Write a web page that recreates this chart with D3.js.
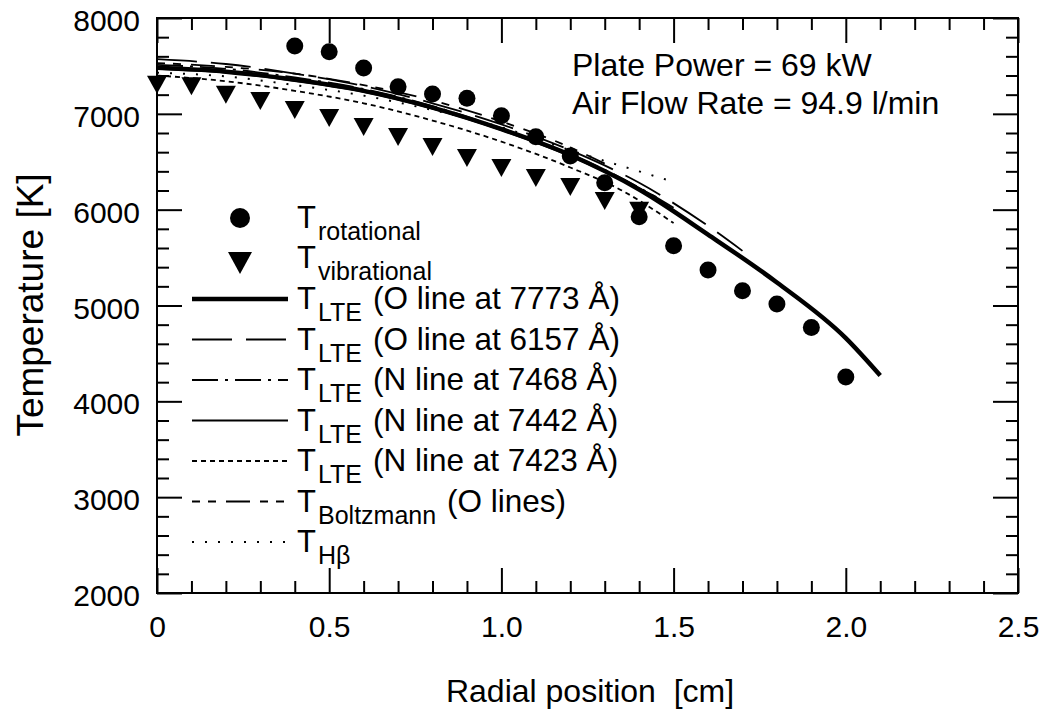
<!DOCTYPE html>
<html lang="en">
<head>
    <meta charset="UTF-8">
    <title>Temperature vs radial position</title>
    <script src="https://d3js.org/d3.v7.min.js"></script>
    <style>
        body {
            margin: 0;
            background: white;
        }
        svg {
            font-family: "Liberation Sans", Arial, Helvetica, sans-serif;
        }
        .axis path { display: none; }
        .axis line { stroke: black; stroke-width: 2px; }
        .axis text { font-size: 30px; fill: black; }
    </style>
</head>
<body>
<script>
    // Axis ticks
    const xMajor = [0, 0.5, 1.0, 1.5, 2.0, 2.5];
    const xLabels = ["0", "0.5", "1.0", "1.5", "2.0", "2.5"];
    const yMajor = [2000, 3000, 4000, 5000, 6000, 7000, 8000];

    // Measured points
    const rotX = [0.4, 0.5, 0.6, 0.7, 0.8, 0.9, 1.0, 1.1, 1.2, 1.3, 1.4, 1.5, 1.6, 1.7, 1.8, 1.9, 2.0];
    const rotT = [7708, 7648, 7478, 7283, 7207, 7162, 6980, 6761, 6560, 6281, 5926, 5623, 5370, 5154, 5015, 4771, 4253];
    const vibX = [0, 0.1, 0.2, 0.3, 0.4, 0.5, 0.6, 0.7, 0.8, 0.9, 1.0, 1.1, 1.2, 1.3, 1.4];
    const vibT = [7335, 7318, 7231, 7165, 7071, 6987, 6894, 6789, 6685, 6570, 6466, 6361, 6267, 6121, 6020];

    // Fitted LTE / other curves (x in cm, T in K)
    const o7773X = [0, 0.2, 0.4, 0.6, 0.8, 1.0, 1.2, 1.4, 1.6, 1.8, 2.0, 2.1];
    const o7773T = [7480, 7440, 7355, 7240, 7065, 6840, 6570, 6210, 5740, 5240, 4660, 4270];
    const o6157X = [0, 0.2, 0.4, 0.6, 0.8, 1.0, 1.2, 1.4, 1.6, 1.7];
    const o6157T = [7570, 7520, 7420, 7290, 7110, 6890, 6620, 6280, 5830, 5570];
    const n7468X = [0, 0.2, 0.4, 0.6, 0.8, 1.0, 1.2, 1.4, 1.5];
    const n7468T = [7510, 7470, 7380, 7260, 7080, 6850, 6580, 6230, 6020];
    const n7442X = [0, 0.2, 0.4, 0.6, 0.8, 1.0, 1.2, 1.45];
    const n7442T = [7470, 7430, 7345, 7230, 7055, 6830, 6560, 6130];
    const n7423X = [0, 0.2, 0.4, 0.6, 0.8, 1.0, 1.2, 1.35, 1.5];
    const n7423T = [7400, 7340, 7240, 7110, 6930, 6710, 6440, 6200, 5860];
    const boltzX = [0, 0.2, 0.4, 0.6, 0.8, 1.0, 1.2, 1.3];
    const boltzT = [7530, 7490, 7420, 7300, 7140, 6920, 6650, 6480];
    const hbX = [0, 0.2, 0.4, 0.6, 0.8, 1.0, 1.2, 1.4, 1.5];
    const hbT = [7430, 7390, 7300, 7190, 7040, 6860, 6620, 6400, 6290];

    const width = 1046, height = 717;
    const margin = {left: 157, right: 28, top: 18, bottom: 124};

    const svg = d3.select("body").append("svg")
        .attr("width", width)
        .attr("height", height);

    const x = d3.scaleLinear().domain([0, 2.5]).range([margin.left, width - margin.right]);
    const y = d3.scaleLinear().domain([2000, 8000]).range([height - margin.bottom, margin.top]);

    const xMinor = d3.range(0, 2.51, 0.1).filter(v => Math.abs(v * 2 - Math.round(v * 2)) > 1e-6);
    const yMinor = d3.range(2000, 8001, 200).filter(v => v % 1000 !== 0);

    // axes: ticks point inward
    const yBottom = y(2000), yTop = y(8000), xLeft = x(0), xRight = x(2.5);

    svg.append("g").attr("class", "axis").attr("transform", `translate(0,${yBottom})`)
        .call(d3.axisBottom(x).tickValues(xMajor).tickSize(-25).tickPadding(23)
            .tickFormat((d, i) => xLabels[i]));
    svg.append("g").attr("class", "axis").attr("transform", `translate(0,${yBottom})`)
        .call(d3.axisBottom(x).tickValues(xMinor).tickSize(-12).tickFormat(""));
    svg.append("g").attr("class", "axis").attr("transform", `translate(0,${yTop})`)
        .call(d3.axisTop(x).tickValues(xMajor).tickSize(-25).tickFormat(""));
    svg.append("g").attr("class", "axis").attr("transform", `translate(0,${yTop})`)
        .call(d3.axisTop(x).tickValues(xMinor).tickSize(-12).tickFormat(""));

    svg.append("g").attr("class", "axis").attr("transform", `translate(${xLeft},0)`)
        .call(d3.axisLeft(y).tickValues(yMajor).tickSize(-25).tickPadding(17).tickFormat(d3.format("d")))
        .selectAll("text").attr("dy", "0.42em");
    svg.append("g").attr("class", "axis").attr("transform", `translate(${xLeft},0)`)
        .call(d3.axisLeft(y).tickValues(yMinor).tickSize(-12).tickFormat(""));
    svg.append("g").attr("class", "axis").attr("transform", `translate(${xRight},0)`)
        .call(d3.axisRight(y).tickValues(yMajor).tickSize(-25).tickFormat(""));
    svg.append("g").attr("class", "axis").attr("transform", `translate(${xRight},0)`)
        .call(d3.axisRight(y).tickValues(yMinor).tickSize(-12).tickFormat(""));

    svg.append("rect")
        .attr("x", xLeft).attr("y", yTop)
        .attr("width", xRight - xLeft).attr("height", yBottom - yTop)
        .attr("fill", "none").attr("stroke", "black").attr("stroke-width", 2);

    // axis titles
    svg.append("text")
        .attr("x", 590).attr("y", 702)
        .attr("text-anchor", "middle")
        .attr("font-size", 32)
        .attr("xml:space", "preserve")
        .text("Radial position  [cm]");
    svg.append("text")
        .attr("transform", "translate(43,305) rotate(-90)")
        .attr("text-anchor", "middle")
        .attr("font-size", 37)
        .text("Temperature [K]");

    // annotation
    svg.append("text").attr("x", 572).attr("y", 76).attr("font-size", 32)
        .text("Plate Power = 69 kW");
    svg.append("text").attr("x", 572).attr("y", 114).attr("font-size", 32)
        .text("Air Flow Rate = 94.9 l/min");

    // curve styles
    const curves = [
        {xs: o7773X, ts: o7773T, w: 4.5, dash: null, label: "(O line at 7773 Å)"},
        {xs: o6157X, ts: o6157T, w: 1.8, dash: "40,14", label: "(O line at 6157 Å)"},
        {xs: n7468X, ts: n7468T, w: 1.8, dash: "26,7,3,7", label: "(N line at 7468 Å)"},
        {xs: n7442X, ts: n7442T, w: 2, dash: null, label: "(N line at 7442 Å)"},
        {xs: n7423X, ts: n7423T, w: 1.8, dash: "5,4", label: "(N line at 7423 Å)"},
        {xs: boltzX, ts: boltzT, w: 1.8, dash: "8,8,8,10,24,10", label: "(O lines)", sub: "Boltzmann"},
        {xs: hbX, ts: hbT, w: 2, dash: "2,11", label: "", sub: "Hβ"}
    ];

    const line = d3.line()
        .x(d => x(d[0]))
        .y(d => y(d[1]))
        .curve(d3.curveMonotoneX);

    curves.slice().reverse().forEach(c => {
        svg.append("path")
            .datum(c.xs.map((v, i) => [v, c.ts[i]]))
            .attr("d", line)
            .attr("fill", "none")
            .attr("stroke", "black")
            .attr("stroke-width", c.w)
            .attr("stroke-dasharray", c.dash);
    });

    // markers
    const triPath = "M-10,-6L10,-6L0,12Z";
    svg.append("g").selectAll("path")
        .data(vibX.map((v, i) => [v, vibT[i]]))
        .join("path")
        .attr("transform", d => `translate(${x(d[0])},${y(d[1])})`)
        .attr("d", triPath)
        .attr("fill", "black");
    svg.append("g").selectAll("circle")
        .data(rotX.map((v, i) => [v, rotT[i]]))
        .join("circle")
        .attr("cx", d => x(d[0]))
        .attr("cy", d => y(d[1]))
        .attr("r", 8.5)
        .attr("fill", "black");

    // legend
    const leg = svg.append("g");
    const tx = 297, subX = 318;
    function legendLabel(base, sub, rest, restX) {
        leg.append("text").attr("x", tx).attr("y", base).attr("font-size", 31).text("T");
        leg.append("text").attr("x", subX).attr("y", base + 12).attr("font-size", 25).text(sub);
        if (rest) {
            leg.append("text").attr("x", restX).attr("y", base).attr("font-size", 31.5).text(rest);
        }
    }

    leg.append("circle").attr("cx", 240).attr("cy", 218).attr("r", 10).attr("fill", "black");
    legendLabel(228, "rotational");
    leg.append("path").attr("transform", "translate(240,260)")
        .attr("d", "M-12,-8L12,-8L0,14Z").attr("fill", "black");
    legendLabel(268, "vibrational");

    curves.forEach((c, i) => {
        const base = 309 + i * 40.5;
        leg.append("line")
            .attr("x1", 192).attr("x2", 288)
            .attr("y1", base - 10).attr("y2", base - 10)
            .attr("stroke", "black")
            .attr("stroke-width", c.w)
            .attr("stroke-dasharray", c.dash);
        const sub = c.sub || "LTE";
        legendLabel(base, sub, c.label, c.sub === "Boltzmann" ? 447 : 373);
    });
</script>
</body>
</html>
